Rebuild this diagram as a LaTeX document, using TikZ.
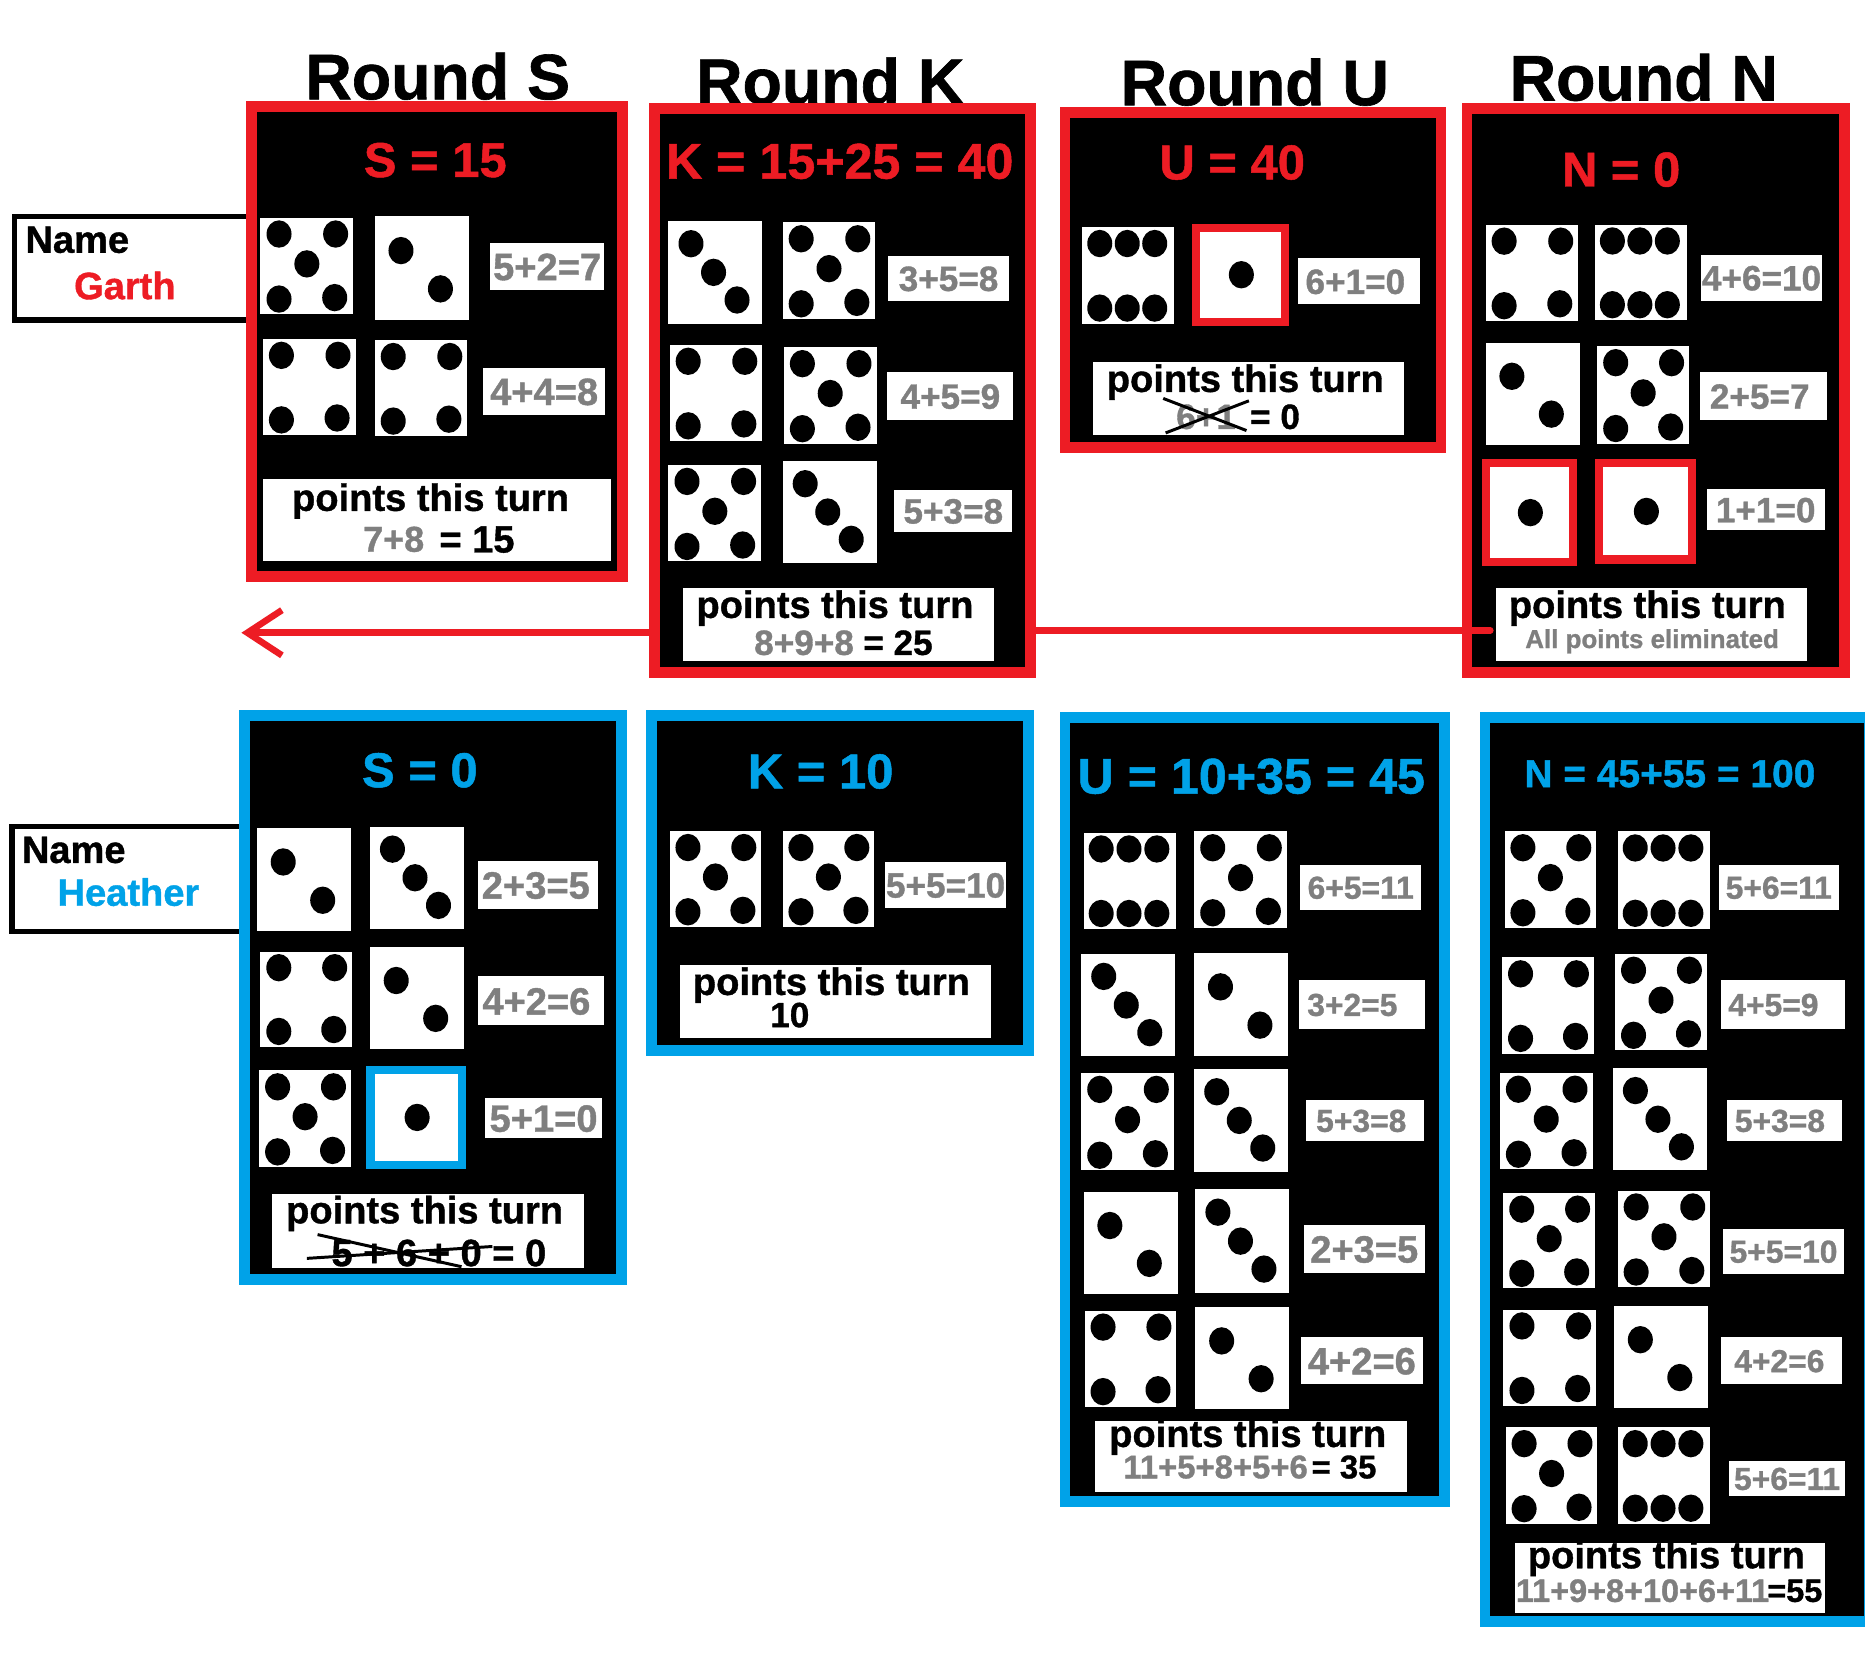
\documentclass[tikz,border=0pt]{standalone}
\usepackage{fontspec}
\setmainfont{Liberation Sans}[BoldFeatures={FakeBold=1}]
\usetikzlibrary{arrows.meta}

\definecolor{garthred}{HTML}{ED1C24}
\definecolor{heatherblue}{HTML}{00A2E8}
\definecolor{sumgrey}{HTML}{7F7F7F}

\tikzset{
  txt/.style={inner sep=0pt,text height=0.72*#1pt,text depth=0pt,font=\bfseries\fontsize{#1}{#1}\selectfont},
  roundtitle/.style={txt=15.4,black},
  score/.style={txt=11.7},
  sumbig/.style={txt=9.1,sumgrey},
  summid/.style={txt=8.4,sumgrey},
  sumsmall/.style={txt=7.6,sumgrey},
  ptslabel/.style={txt=9.1,black},
  ptssum/.style={txt=#1,sumgrey},
  namelabel/.style={txt=9.1},
  panelred/.style={fill=black,draw=garthred,line width=0.09cm},
  panelblue/.style={fill=black,draw=heatherblue,line width=0.09cm},
  namebox/.style={fill=white,draw=black,line width=0.045cm},
  crossout/.style={black,line width=0.025cm},
  pointer/.style={garthred,line width=0.055cm,line cap=round}
}

\def\pipsone{0.51/0.5}
\def\pipstwo{0.28/0.33,0.70/0.70}
\def\pipsthree{0.24/0.22,0.48/0.5,0.73/0.77}
\def\pipsfour{0.2/0.17,0.81/0.17,0.2/0.84,0.8/0.82}
\def\pipsfive{0.2/0.17,0.81/0.17,0.5/0.48,0.2/0.845,0.8/0.83}
\def\pipssix{0.19/0.17,0.49/0.17,0.79/0.17,0.19/0.84,0.49/0.84,0.79/0.84}

% x1 y1 x2 y2 pips
\newcommand{\dieface}[5]{
  \fill[white] (#1,#2) rectangle (#3,#4);
  \expandafter\let\expandafter\pipslist\csname pips#5\endcsname
  \foreach \px/\py in \pipslist
    \fill[black] ({(#1)+\px*((#3)-(#1))},{(#2)+\py*((#4)-(#2))}) ellipse [x radius=0.105cm,y radius=0.115cm];
}
% colour x1 y1 x2 y2
\newcommand{\framedface}[5]{
  \fill[#1] (#2,#3) rectangle (#4,#5);
  \dieface{#2+7}{#3+7}{#4-7}{#5-7}{one}
}

\begin{document}
\begin{tikzpicture}[x=0.01cm,y=-0.01cm]
\useasboundingbox (0,0) rectangle (1568,1398);
\fill[white] (0,0) rectangle (1568,1398);

% titles
\node [roundtitle] (titleS) at (368,64) {Round S};
\node [roundtitle] (titleK) at (698,68) {Round K};
\node [roundtitle] (titleU) at (1055,69) {Round U};
\node [roundtitle] (titleN) at (1382,65) {Round N};

% names
\draw [namebox] (12,182) rectangle (215,269);
\node [namelabel,black] (nameA) at (65,201) {Name};
\node [namelabel,garthred] (garth) at (105,240) {Garth};
\draw [namebox] (10,695) rectangle (210,783);
\node [namelabel,black] (nameB) at (62,714) {Name};
\node [namelabel,heatherblue] (heather) at (108,750) {Heather};

% arrow behind the panels
\coordinate (nstart) at (1253,530);
\coordinate (kright) at (860,530);
\coordinate (kleft) at (556,532);
\coordinate (arrowend) at (203,532);
\draw [pointer] (nstart) -- (kright);
\draw [pointer,-{Straight Barb[length=0.29cm,width=0.38cm,line width=0.055cm]}] (kleft) -- (arrowend);

% Garth, round S
\draw [panelred] (211.5,89.5) rectangle (523.5,484.5);
\node [score,garthred] (scoreGS) at (366,134) {S = 15};
\dieface{219}{183}{297}{264}{five}
\dieface{315}{182}{394}{269}{two}
\fill[white] (412,204) rectangle node [sumbig] (sumGS1) {5+2=7} (508,244);
\dieface{221}{285}{299}{366}{four}
\dieface{315}{286}{393}{367}{four}
\fill[white] (406,309) rectangle node [sumbig] (sumGS2) {4+4=8} (509,349);
\fill[white] (221,403) rectangle (514,472);
\node [ptslabel] (ptsGS) at (362,418) {points this turn};
\node [ptssum=8.6] (ptsGS1) at (331,453) {7+8};
\node [ptslabel] (ptsGS2) at (401,453) {= 15};

% Garth, round K
\draw [panelred] (550.5,91.5) rectangle (866.5,565.5);
\node [txt=12,garthred] (scoreGK) at (706,135) {K = 15+25 = 40};
\dieface{562}{186}{641}{272}{three}
\dieface{658}{187}{736}{268}{five}
\fill[white] (747,215) rectangle node [summid] (sumGK1) {3+5=8} (848,253);
\dieface{563}{290}{641}{371}{four}
\dieface{659}{292}{737}{373}{five}
\fill[white] (746,313) rectangle node [summid] (sumGK2) {4+5=9} (852,353);
\dieface{562}{391}{640}{472}{five}
\dieface{658}{388}{737}{473}{three}
\fill[white] (752,412) rectangle node [summid] (sumGK3) {5+3=8} (851,447);
\fill[white] (574,494) rectangle (836,556);
\node [ptslabel] (ptsGK) at (702,508) {points this turn};
\node [ptssum=8.4] (ptsGK1) at (676,540) {8+9+8};
\node [txt=8.4,black] (ptsGK2) at (755,540) {= 25};

% Garth, round U
\draw [panelred] (895.5,94.5) rectangle (1211.5,376.5);
\node [score,garthred] (scoreGU) at (1036,136) {U = 40};
\dieface{910}{191}{987}{272}{six}
\framedface{garthred}{1002}{188}{1084}{274}
\fill[white] (1091,217) rectangle node [summid,xshift=-0.03cm] (sumGU1) {6+1=0} (1194,256);
\fill[white] (919,304) rectangle (1180,366);
\node [ptslabel] (ptsGU) at (1047,318) {points this turn};
\node [ptssum=8.4] (ptsGU1) at (1014,350) {6+1};
\node [txt=8.4,black] (ptsGU2) at (1072,350) {= 0};
\coordinate (crossA) at (978,335);
\coordinate (crossB) at (1048,362);
\coordinate (crossC) at (980,364);
\coordinate (crossD) at (1050,337);
\draw [crossout] (crossA) -- (crossB);
\draw [crossout] (crossC) -- (crossD);

% Garth, round N
\draw [panelred] (1233.5,91.5) rectangle (1550.5,565.5);
\node [score,garthred] (scoreGN) at (1363,142) {N = 0};
\dieface{1249}{189}{1327}{270}{four}
\dieface{1341}{189}{1418}{269}{six}
\fill[white] (1430,214) rectangle node [summid] (sumGN1) {4+6=10} (1532,253);
\dieface{1249}{288}{1328}{374}{two}
\dieface{1343}{291}{1420}{373}{five}
\fill[white] (1429,313) rectangle node [summid,xshift=-0.03cm] (sumGN2) {2+5=7} (1536,353);
\framedface{garthred}{1246}{386}{1326}{476}
\framedface{garthred}{1341}{386}{1426}{474}
\fill[white] (1435,411) rectangle node [summid] (sumGN3) {1+1=0} (1534,446);
\draw [pointer] (nstart) -- ++(-24,0);
\fill[white] (1258,494) rectangle (1519,556);
\node [ptslabel] (ptsGN) at (1385,508) {points this turn};
\node [ptssum=6.2] (ptsGN1) at (1389,537) {All points eliminated};

% Heather, round S
\draw [panelblue] (205.5,601.5) rectangle (522.5,1075.5);
\node [score,heatherblue] (scoreHS) at (353,647) {S = 0};
\dieface{216}{696}{295}{783}{two}
\dieface{311}{695}{390}{781}{three}
\fill[white] (402,724) rectangle node [sumbig,xshift=-0.02cm] (sumHS1) {2+3=5} (503,764);
\dieface{219}{800}{296}{880}{four}
\dieface{311}{796}{390}{882}{two}
\fill[white] (402,821) rectangle node [sumbig,xshift=-0.04cm] (sumHS2) {4+2=6} (508,862);
\dieface{218}{900}{295}{981}{five}
\framedface{heatherblue}{308}{896}{392}{983}
\fill[white] (408,923) rectangle node [sumbig] (sumHS3) {5+1=0} (506,957);
\fill[white] (229,1004) rectangle (491,1066);
\node [ptslabel] (ptsHS) at (357,1017) {points this turn};
\node [ptslabel] (ptsHS1) at (369,1053) {5 + 6 + 0 = 0};
\coordinate (crossE) at (258,1058);
\coordinate (crossF) at (414,1048);
\coordinate (crossG) at (267,1038);
\coordinate (crossH) at (388,1065);
\draw [crossout] (crossE) -- (crossF);
\draw [crossout] (crossG) -- (crossH);

% Heather, round K
\draw [panelblue] (547.5,601.5) rectangle (864.5,883.5);
\node [score,heatherblue] (scoreHK) at (690,648) {K = 10};
\dieface{563}{699}{640}{779}{five}
\dieface{658}{699}{735}{779}{five}
\fill[white] (744,725) rectangle node [summid] (sumHK1) {5+5=10} (846,763);
\fill[white] (572,811) rectangle (833,873);
\node [ptslabel] (ptsHK) at (699,825) {points this turn};
\node [txt=8.4,black] (ptsHK1) at (664,853) {10};

% Heather, round U
\draw [panelblue] (895.5,603.5) rectangle (1214.5,1262.5);
\node [txt=12,heatherblue] (scoreHU) at (1052,652) {U = 10+35 = 45};
\dieface{911}{700}{989}{781}{six}
\dieface{1004}{699}{1082}{780}{five}
\fill[white] (1093,727) rectangle node [sumsmall] (sumHU1) {6+5=11} (1195,765);
\dieface{909}{802}{988}{888}{three}
\dieface{1004}{801}{1083}{888}{two}
\fill[white] (1092,824) rectangle node [sumsmall,xshift=-0.08cm] (sumHU2) {3+2=5} (1198,865);
\dieface{909}{902}{987}{984}{five}
\dieface{1004}{899}{1083}{985}{three}
\fill[white] (1098,925) rectangle node [sumsmall,xshift=-0.03cm] (sumHU3) {5+3=8} (1197,959);
\dieface{911}{1002}{990}{1088}{two}
\dieface{1005}{1000}{1084}{1087}{three}
\fill[white] (1096,1030) rectangle node [sumbig] (sumHU4) {2+3=5} (1198,1070);
\dieface{912}{1102}{989}{1183}{four}
\dieface{1005}{1099}{1084}{1185}{two}
\fill[white] (1094,1124) rectangle node [sumbig] (sumHU5) {4+2=6} (1196,1164);
\fill[white] (921,1195) rectangle (1183,1254);
\node [ptslabel] (ptsHU) at (1049,1205) {points this turn};
\node [ptssum=7.85] (ptsHU1) at (1022,1233) {11+5+8+5+6};
\node [txt=7.85,black] (ptsHU2) at (1130,1233) {= 35};

% Heather, round N
\draw [panelblue] (1248.5,603.5) rectangle (1572,1363.5);
\node [txt=9.3,heatherblue] (scoreHN) at (1404,650) {N = 45+55 = 100};
\dieface{1265}{699}{1342}{780}{five}
\dieface{1360}{699}{1438}{781}{six}
\fill[white] (1445,727) rectangle node [sumsmall] (sumHN1) {5+6=11} (1546,765);
\dieface{1263}{805}{1340}{886}{four}
\dieface{1358}{802}{1435}{883}{five}
\fill[white] (1447,824) rectangle node [sumsmall,xshift=-0.08cm] (sumHN2) {4+5=9} (1551,865);
\dieface{1261}{902}{1339}{983}{five}
\dieface{1356}{898}{1435}{984}{three}
\fill[white] (1452,925) rectangle node [sumsmall,xshift=-0.04cm] (sumHN3) {5+3=8} (1549,959);
\dieface{1264}{1003}{1341}{1083}{five}
\dieface{1360}{1001}{1438}{1082}{five}
\fill[white] (1449,1033) rectangle node [sumsmall] (sumHN4) {5+5=10} (1550,1071);
\dieface{1264}{1101}{1342}{1182}{four}
\dieface{1357}{1098}{1436}{1184}{two}
\fill[white] (1447,1124) rectangle node [sumsmall,xshift=-0.02cm] (sumHN5) {4+2=6} (1549,1164);
\dieface{1266}{1200}{1343}{1281}{five}
\dieface{1360}{1200}{1438}{1281}{six}
\fill[white] (1454,1228) rectangle node [sumsmall] (sumHN6) {5+6=11} (1551,1258);
\fill[white] (1274,1297) rectangle (1534,1356);
\node [ptslabel] (ptsHN) at (1401,1307) {points this turn};
\node [ptssum=7.75] (ptsHN1) at (1381,1337) {11+9+8+10+6+11};
\node [txt=7.75,black] (ptsHN2) at (1509,1337) {=55};
\end{tikzpicture}
\end{document}
